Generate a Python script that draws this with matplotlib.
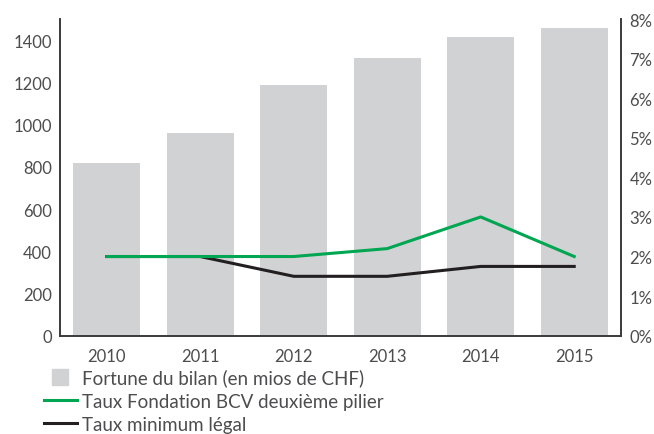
import matplotlib.pyplot as plt
from matplotlib.lines import Line2D
from matplotlib.ticker import FuncFormatter

plt.rcParams['font.family'] = ['Lato', 'DejaVu Sans']

years = ["2010", "2011", "2012", "2013", "2014", "2015"]
fortune = [818, 960, 1187, 1315, 1415, 1457]
taux_bcv = [2.0, 2.0, 2.0, 2.2, 3.0, 2.0]
taux_min = [2.0, 2.0, 1.5, 1.5, 1.75, 1.75]

grey = "#d1d2d4"
green = "#00a651"
black = "#231f20"
txt = "#4d4d4f"

fig = plt.figure(figsize=(6.54, 4.35), dpi=100)
ax = fig.add_axes([0.0917, 0.226, 0.8578, 0.728])
ax2 = ax.twinx()

x = range(len(years))
ax.bar(x, fortune, width=0.72, color=grey, zorder=1)
ax2.plot(x, taux_min, color=black, lw=2.2, zorder=3)
ax2.plot(x, taux_bcv, color=green, lw=2.2, zorder=4)

ax.set_xlim(-0.5, 5.5)
ax.set_ylim(0, 1500)
ax2.set_ylim(0, 8)
ax.set_xticks(list(x))
ax.set_xticklabels(years)
ax.set_yticks(range(0, 1401, 200))
ax2.set_yticks(range(0, 9))
ax2.yaxis.set_major_formatter(FuncFormatter(lambda v, p: f"{int(v)}%"))

for a in (ax, ax2):
    a.spines['top'].set_visible(False)
    for s in ('left', 'right', 'bottom'):
        a.spines[s].set_color("#3a3a3a")
        a.spines[s].set_linewidth(1.2)
    a.tick_params(length=0, labelsize=12, colors=txt, pad=6)
ax.tick_params(axis='x', pad=9)

handles = [
    Line2D([], [], marker='s', color=grey, ls='none', markersize=11),
    Line2D([], [], color=green, lw=2.2),
    Line2D([], [], color=black, lw=2.2),
]
labels = [
    "Fortune du bilan (en mios de CHF)",
    "Taux Fondation BCV deuxième pilier",
    "Taux minimum légal",
]
leg = fig.legend(handles, labels, loc='upper left', bbox_to_anchor=(0.067, 0.150),
                 frameon=False, fontsize=13.5, handlelength=1.76, handletextpad=0.27,
                 labelspacing=0.33, borderpad=0, borderaxespad=0)
for t in leg.get_texts():
    t.set_color(txt)

fig.savefig("out.png", dpi=100)
